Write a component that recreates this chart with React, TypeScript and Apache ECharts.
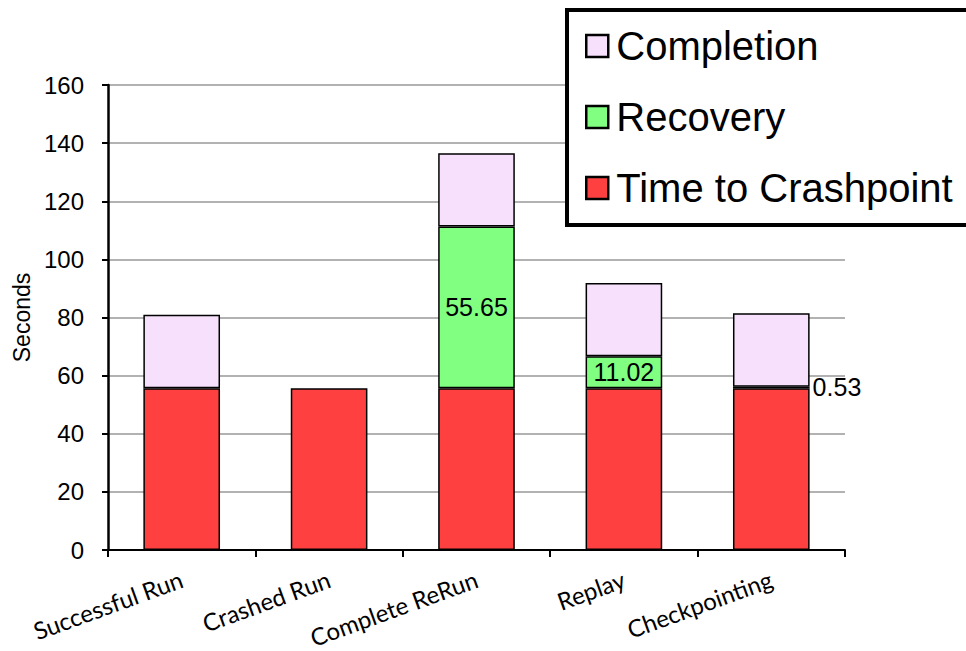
import React, { useEffect, useRef } from "react";
import * as echarts from "echarts";

const categories = ["Successful Run", "Crashed Run", "Complete ReRun", "Replay", "Checkpointing"];
const timeToCrashpoint = [55.65, 55.65, 55.65, 55.65, 55.65];
const recovery: (number | null)[] = [null, null, 55.65, 11.02, 0.53];
const completion: (number | null)[] = [25.3, null, 25.2, 25.2, 25.3];
const yTicks = { min: 0, max: 160, interval: 20 };

const RED = "#FF4040";
const GREEN = "#80FF80";
const LAV = "#F6E0FB";

export default function App() {
  const ref = useRef<HTMLDivElement>(null);
  useEffect(() => {
    if (!ref.current) return;
    const chart = echarts.init(ref.current, undefined, { renderer: "svg" });
    const barStyle = (c: string) => ({ color: c, borderColor: "#000", borderWidth: 1.5 });
    chart.setOption({
      animation: false,
      textStyle: { fontFamily: "Liberation Sans, Arial, sans-serif" },
      grid: { left: 108, right: 121, top: 85, bottom: 101 },
      xAxis: {
        type: "category",
        data: categories,
        axisLine: { lineStyle: { color: "#000", width: 2 } },
        axisTick: { show: true, length: 7, lineStyle: { color: "#000", width: 2 } },
        axisLabel: {
          rotate: 20,
          margin: 28,
          color: "#000",
          fontSize: 24,
          fontFamily: "Lato, 'Open Sans', sans-serif",
        },
      },
      yAxis: {
        type: "value",
        min: yTicks.min,
        max: yTicks.max,
        interval: yTicks.interval,
        name: "Seconds",
        nameLocation: "middle",
        nameGap: 70,
        nameRotate: 90,
        nameTextStyle: { color: "#000", fontSize: 23, fontFamily: "Liberation Sans, Arial, sans-serif" },
        axisLine: { show: true, lineStyle: { color: "#000", width: 2.5 } },
        axisTick: { show: true, length: 6, lineStyle: { color: "#000", width: 2 } },
        axisLabel: { color: "#000", fontSize: 24, margin: 24, fontFamily: "Liberation Sans, Arial, sans-serif" },
        splitLine: { lineStyle: { color: "#999", width: 1.5 } },
      },
      legend: {
        orient: "vertical",
        left: 580,
        top: 21,
        itemWidth: 22,
        itemHeight: 22,
        itemGap: 31,
        z: 101,
        icon: "rect",
        data: ["Completion", "Recovery", "Time to Crashpoint"],
        textStyle: { fontSize: 40, color: "#000", lineHeight: 40, padding: [0, 0, 0, 3], fontFamily: "Liberation Sans, Arial, sans-serif" },
        itemStyle: { borderColor: "#000", borderWidth: 2.5 },
      },
      graphic: [
        {
          type: "rect",
          z: 100,
          shape: { x: 567, y: 10, width: 420, height: 215 },
          style: { fill: "#fff", stroke: "#000", lineWidth: 4 },
        },
      ],
      series: [
        {
          name: "Time to Crashpoint",
          type: "bar",
          stack: "t",
          barWidth: "52%",
          data: timeToCrashpoint,
          itemStyle: barStyle(RED),
        },
        {
          name: "Recovery",
          type: "bar",
          stack: "t",
          data: recovery.map((v) =>
            v !== null && v < 5 ? { value: v, label: { position: "right", distance: 3 } } : v
          ),
          itemStyle: barStyle(GREEN),
          label: {
            show: true,
            position: "inside",
            color: "#000",
            fontSize: 25,
            fontFamily: "Liberation Sans, Arial, sans-serif",
            formatter: (p: any) => (p.value == null ? "" : String(p.value)),
          },
        },
        {
          name: "Completion",
          type: "bar",
          stack: "t",
          data: completion,
          itemStyle: barStyle(LAV),
        },
      ],
    });
    return () => chart.dispose();
  }, []);
  return <div ref={ref} style={{ width: 966, height: 651, position: "absolute", left: 0, top: 0, background: "#fff" }} />;
}
